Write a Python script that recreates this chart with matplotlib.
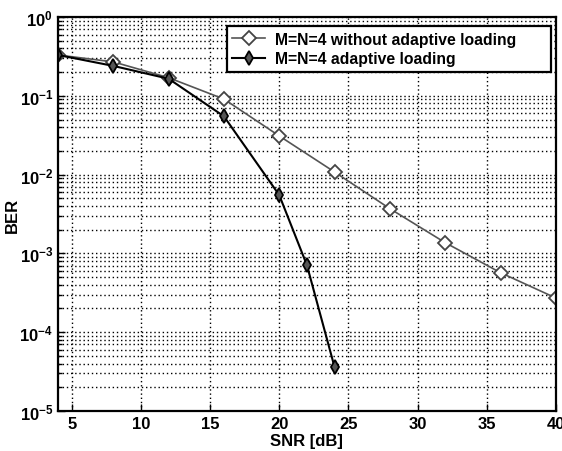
import matplotlib
matplotlib.use("Agg")
import matplotlib.pyplot as plt
from matplotlib.ticker import LogLocator, NullFormatter, FixedLocator

plt.rcParams['font.family'] = ['Liberation Sans', 'DejaVu Sans']
plt.rcParams['font.weight'] = 'bold'

snr_plain = [4, 8, 12, 16, 20, 24, 28, 32, 36, 40]
ber_plain = [0.33, 0.27, 0.17, 0.091, 0.031, 0.0108, 0.0037, 0.00137, 0.00057, 0.000272]
snr_adapt = [4, 8, 12, 16, 20, 22, 24]
ber_adapt = [0.33, 0.24, 0.165, 0.055, 0.0055, 0.00071, 3.6e-5]
label_plain = "M=N=4 without adaptive loading"
label_adapt = "M=N=4 adaptive loading"
xticks = [5, 10, 15, 20, 25, 30, 35, 40]

fig = plt.figure(figsize=(5.62, 4.52), dpi=100)
ax = fig.add_axes([0.1032, 0.0885, 0.8858, 0.8715])

ax.semilogy(snr_plain, ber_plain, color='#555555', lw=1.2, marker='D', ms=7,
            mfc='white', mec='#444444', mew=1.3, label=label_plain)
ax.semilogy(snr_adapt, ber_adapt, color='black', lw=1.5, marker='d', ms=7,
            mfc='#555555', mec='black', mew=1.3, label=label_adapt)

ax.set_xlim(4, 40)
ax.set_ylim(1e-5, 1)
ax.xaxis.set_major_locator(FixedLocator(xticks))
ax.yaxis.set_major_locator(LogLocator(base=10, numticks=10))
ax.yaxis.set_minor_locator(LogLocator(base=10, subs=range(2, 10), numticks=20))
ax.yaxis.set_minor_formatter(NullFormatter())

ax.grid(True, which='major', axis='both', color='black', linestyle=(0, (1, 2)), lw=1.0)
ax.grid(True, which='minor', axis='y', color='black', linestyle=(0, (1, 2)), lw=1.0)

for s in ax.spines.values():
    s.set_linewidth(1.6)
ax.tick_params(which='both', direction='in', labelsize=12, width=1)
ax.tick_params(which='major', length=5)
ax.tick_params(which='minor', length=3)
for lbl in ax.get_xticklabels() + ax.get_yticklabels():
    lbl.set_fontweight('bold')

ax.set_xlabel("SNR [dB]", fontsize=12, fontweight='bold')
ax.set_ylabel("BER", fontsize=12, fontweight='bold')
ax.xaxis.set_label_coords(0.5, -0.056)
ax.yaxis.set_label_coords(-0.076, 0.5)

leg = ax.legend(loc='upper left', fontsize=11.3, frameon=True, fancybox=False,
                edgecolor='black', framealpha=1, borderpad=0.35, handlelength=2.1,
                handletextpad=0.6, borderaxespad=0, mode='expand',
                bbox_to_anchor=(0.339, 0.70, 0.651, 0.277), labelspacing=0.3)
leg.get_frame().set_linewidth(1.6)
for t in leg.get_texts():
    t.set_fontweight('bold')

fig.savefig("out.png", dpi=100)
